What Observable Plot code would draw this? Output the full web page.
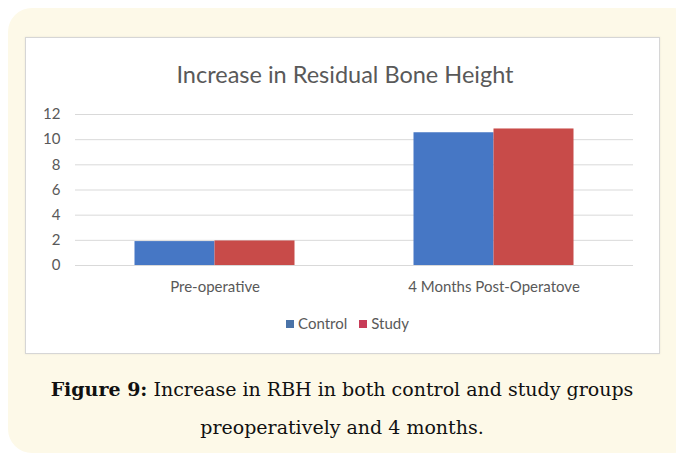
<!DOCTYPE html>
<html>
<head>
<meta charset="utf-8">
<script src="https://cdn.jsdelivr.net/npm/d3@7"></script>
<script src="https://cdn.jsdelivr.net/npm/@observablehq/plot@0.6"></script>
<style>
  html, body { margin: 0; padding: 0; background: #ffffff; width: 676px; height: 459px; overflow: hidden; }
  #panel { position: absolute; left: 8px; top: 8px; width: 690px; height: 445px; background: #fdf9e8; border-radius: 24px; }
  #box { position: absolute; left: 25px; top: 37px; width: 633px; height: 315px; background: #fff; border: 1px solid #d6d6d6; box-shadow: 0 0 2px rgba(0,0,0,0.08); }
  #title { position: absolute; left: 25px; width: 640px; top: 60px; text-align: center; font-family: Lato, "Open Sans", sans-serif; font-size: 23.5px; color: #595959; }
  #chart { position: absolute; left: 25px; top: 100px; }
  #legend { position: absolute; left: 25px; width: 645px; top: 314px; text-align: center; font-family: Lato, "Open Sans", sans-serif; font-size: 15px; color: #595959; }
  #legend span.sw { display: inline-block; width: 8px; height: 8px; margin-right: 4px; vertical-align: 1px; }
  #legend span.item { margin: 0 6px; }
  #caption { position: absolute; left: 0; width: 684px; top: 370px; text-align: center; font-family: "DejaVu Serif", "Liberation Serif", serif; font-size: 19px; line-height: 38px; color: #111; }
</style>
</head>
<body>
<div id="panel"></div>
<div id="box"></div>
<div id="title">Increase in Residual Bone Height</div>
<div id="chart"></div>
<div id="legend"></div>
<div id="caption"><b>Figure 9:</b> Increase in RBH in both control and study groups<br>preoperatively and 4 months.</div>
<script>
const categories = ["Pre-operative", "4 Months Post-Operatove"];
const series = ["Control", "Study"];
const controlValues = [1.9, 10.55];
const studyValues = [1.95, 10.85];
const yTicks = [0, 2, 4, 6, 8, 10, 12];
const colors = ["#4677c5", "#c84b49"];

const rows = categories.map((c, i) => ({category: c, control: controlValues[i], study: studyValues[i]}));

const W = 630, H = 200, mL = 50, mR = 22;
const band = (W - mL - mR) / categories.length;
const barW = 80;

const plot = Plot.plot({
  width: W,
  height: H,
  marginLeft: mL,
  marginRight: mR,
  marginTop: 14,
  marginBottom: 35,
  style: {fontFamily: "Lato, 'Open Sans', sans-serif", fontSize: "15px", color: "#595959", background: "transparent"},
  x: {domain: categories, padding: 0, label: null, tickSize: 0, tickPadding: 16},
  y: {domain: [0, 12], ticks: yTicks, label: null, tickSize: 0, tickPadding: 15, tickFormat: d => d},
  marks: [
    Plot.ruleY(yTicks, {stroke: "#d9d9d9", strokeWidth: 1}),
    Plot.barY(rows, {x: "category", y: "control", fill: colors[0], insetLeft: band / 2 - barW, insetRight: band / 2}),
    Plot.barY(rows, {x: "category", y: "study", fill: colors[1], insetLeft: band / 2, insetRight: band / 2 - barW})
  ]
});
document.getElementById("chart").appendChild(plot);

const legend = document.getElementById("legend");
series.forEach((s, i) => {
  const item = document.createElement("span");
  item.className = "item";
  item.innerHTML = `<span class="sw" style="background:${i === 0 ? "#4a73a8" : "#c83c58"}"></span>${s}`;
  legend.appendChild(item);
});
</script>
</body>
</html>
